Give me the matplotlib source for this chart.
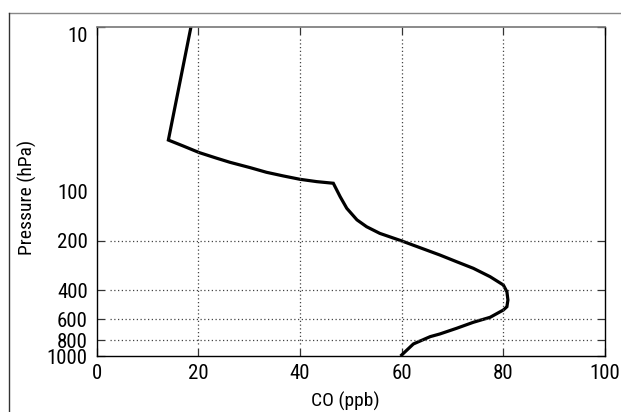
import matplotlib
matplotlib.use("Agg")
import matplotlib.pyplot as plt
from matplotlib.lines import Line2D
from matplotlib import font_manager as fm
from matplotlib.font_manager import FontProperties

# Data: CO profile (ppb) vs pressure (hPa)
pressure = [10, 48.8, 53.0, 58.2, 62.9, 66.6, 71.8, 76.6, 80.6, 84.5, 87.3, 89.3,
            107.8, 126.8, 149, 164, 180, 200, 243.5, 267.5, 293.4, 329.9, 370.5,
            407, 457, 502, 525.6, 582, 624, 679, 735, 763, 845, 986]
co_ppb = [18.55, 14.1, 17.0, 20.2, 23.6, 26.2, 30.2, 33.4, 36.7, 40.0, 43.3, 46.55,
          47.9, 49.2, 51.2, 53.1, 55.7, 60.0, 67.5, 70.8, 74.1, 77.4, 80.0,
          80.7, 80.9, 80.7, 80.0, 77.4, 74.1, 70.8, 67.5, 65.6, 62.3, 60.0]

x_ticks = [0, 20, 40, 60, 80, 100]
y_ticks = [10, 100, 200, 400, 600, 800, 1000]
y_tick_labels = ["10", "100", "200", "400", "600", "800", "1000"]
x_grid = [20, 40, 60, 80]
y_grid = [200, 400, 600, 800]

# look for a condensed / narrow sans font
cands = []
for f in fm.fontManager.ttflist:
    key = (f.name + " " + f.fname).lower()
    if ("narrow" in key or "condensed" in key or str(f.stretch).lower() in ("condensed", "semi-condensed")) \
            and f.style == "normal" and f.weight in (400, "normal", "regular") \
            and "extra" not in key and "semi" not in key and "ultra" not in key and "mono" not in key \
            and "serif" not in f.fname.lower().replace("sans", ""):
        pref = 9
        for i, nm in enumerate(["liberation", "arial", "notosans", "noto sans", "roboto", "dejavu", "open"]):
            if nm in key:
                pref = i
                break
        cands.append((pref, f.fname, f.name))
cands.sort()
if cands:
    def FP(size):
        return FontProperties(fname=cands[0][1], size=size)
else:
    def FP(size):
        return FontProperties(family="Liberation Sans", size=size - 2)

fig = plt.figure(figsize=(6.21, 4.12), dpi=100)
L, R, T, B = 96.7, 605, 26.7, 356
W, H = 621, 412
ax = fig.add_axes([L / W, 1 - B / H, (R - L) / W, (B - T) / H])

ax.plot(co_ppb, pressure, color="black", lw=2.3, solid_joinstyle="miter")
ax.set_yscale("log")
ax.set_xlim(0, 100)
ax.set_ylim(1000, 10)

ax.set_xticks(x_ticks)
ax.set_xticklabels([str(v) for v in x_ticks])
ax.set_yticks(y_ticks)
ax.set_yticklabels(y_tick_labels)
ax.yaxis.set_minor_locator(matplotlib.ticker.NullLocator())

ax.tick_params(axis="both", direction="in", length=6, width=0.9, color="#333333",
               top=True, right=True, pad=6.5)
ax.tick_params(axis="x", pad=6)
ax.yaxis.get_major_ticks()[1].tick1line.set_visible(False)
ax.yaxis.get_major_ticks()[1].tick2line.set_visible(False)

for lb in ax.get_xticklabels() + ax.get_yticklabels():
    lb.set_fontproperties(FP(15))
ax.get_yticklabels()[0].set_va("top")

for v in x_grid:
    ax.axvline(v, ymin=0.035, ymax=0.965, color="#444444", lw=0.9, ls=(0, (1, 2)))
for v in y_grid:
    ax.axhline(v, xmin=0.026, xmax=0.974, color="#444444", lw=0.9, ls=(0, (1, 2)))

for s in ["left", "right", "bottom"]:
    ax.spines[s].set_color("black")
    ax.spines[s].set_linewidth(1.0)
ax.spines["top"].set_color("#777777")
ax.spines["top"].set_linewidth(1.2)

ax.set_xlabel("CO (ppb)", fontproperties=FP(14))
ax.set_ylabel("Pressure (hPa)", fontproperties=FP(14))
ax.xaxis.set_label_coords(0.49, -0.108)
ax.yaxis.set_label_coords(-0.1175, 0.483)

# figure frame (top and left edges)
fig.add_artist(Line2D([9.3 / W, 1.0], [1 - 13.3 / H, 1 - 13.3 / H], transform=fig.transFigure,
                      color="#888888", lw=1.0))
fig.add_artist(Line2D([9.3 / W, 9.3 / W], [0.0, 1 - 13.3 / H], transform=fig.transFigure,
                      color="#333333", lw=1.0))

fig.savefig("out.png", dpi=100)
